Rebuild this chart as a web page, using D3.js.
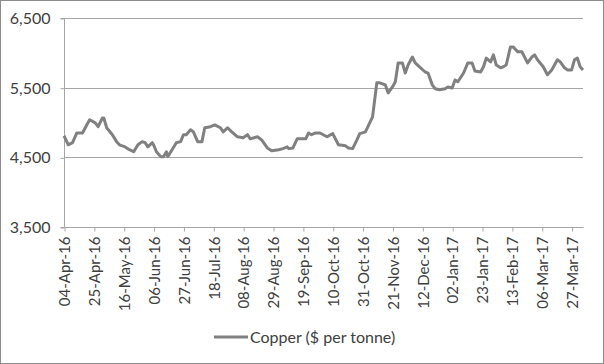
<!DOCTYPE html>
<html>
<head>
<meta charset="utf-8">
<script src="https://cdn.jsdelivr.net/npm/d3@7"></script>
<style>
  body { margin: 0; background: #fff; }
  svg text { font-family: Lato, "Liberation Sans", sans-serif; fill: #404040; }
</style>
</head>
<body>
<svg id="chart" width="604" height="364"></svg>
<script>
// copper price
const dates = [
  '2016-04-04','2016-04-07','2016-04-10','2016-04-13','2016-04-17','2016-04-20','2016-04-22','2016-04-26','2016-04-28',
  '2016-05-01','2016-05-02','2016-05-04','2016-05-08','2016-05-11','2016-05-13','2016-05-17','2016-05-20','2016-05-23',
  '2016-05-26','2016-05-29','2016-05-31','2016-06-02','2016-06-05','2016-06-06','2016-06-08','2016-06-11','2016-06-13',
  '2016-06-15','2016-06-16','2016-06-19','2016-06-22','2016-06-25','2016-06-27','2016-06-29','2016-07-02','2016-07-04',
  '2016-07-07','2016-07-10','2016-07-12','2016-07-16','2016-07-19','2016-07-23','2016-07-25','2016-07-28','2016-07-31',
  '2016-08-04','2016-08-08','2016-08-11','2016-08-13','2016-08-18','2016-08-21','2016-08-25','2016-08-28','2016-09-02',
  '2016-09-05','2016-09-08','2016-09-09','2016-09-12','2016-09-15','2016-09-18','2016-09-21','2016-09-23','2016-09-25',
  '2016-09-28','2016-10-01','2016-10-06','2016-10-10','2016-10-14','2016-10-19','2016-10-21','2016-10-24','2016-10-27',
  '2016-10-29','2016-11-02','2016-11-05','2016-11-07','2016-11-10','2016-11-12','2016-11-16','2016-11-18','2016-11-21',
  '2016-11-23','2016-11-25','2016-11-28','2016-11-30','2016-12-02','2016-12-05','2016-12-07','2016-12-10','2016-12-14',
  '2016-12-16','2016-12-19','2016-12-21','2016-12-24','2016-12-28','2016-12-30','2017-01-02','2017-01-04','2017-01-06',
  '2017-01-10','2017-01-13','2017-01-16','2017-01-18','2017-01-22','2017-01-24','2017-01-26','2017-01-29','2017-01-31',
  '2017-02-02','2017-02-05','2017-02-07','2017-02-09','2017-02-12','2017-02-14','2017-02-17','2017-02-20','2017-02-24',
  '2017-02-27','2017-03-01','2017-03-03','2017-03-07','2017-03-10','2017-03-13','2017-03-17','2017-03-19','2017-03-22',
  '2017-03-24','2017-03-27','2017-03-29','2017-03-31','2017-04-02','2017-04-04'
];
const copper = [
  4810,4680,4710,4850,4850,4965,5040,4995,4940,
  5065,5065,4925,4825,4725,4680,4650,4610,4580,
  4680,4725,4710,4650,4710,4680,4580,4510,4510,
  4580,4510,4610,4710,4725,4825,4825,4895,4865,
  4725,4725,4925,4940,4965,4925,4865,4925,4865,
  4795,4780,4825,4765,4795,4750,4635,4595,4610,
  4625,4650,4625,4635,4765,4765,4765,4850,4825,
  4850,4850,4795,4840,4680,4665,4635,4625,4750,
  4840,4865,4995,5080,5570,5570,5540,5425,5510,
  5585,5855,5855,5710,5825,5940,5855,5800,5725,
  5710,5540,5485,5470,5485,5510,5495,5610,5585,
  5710,5855,5855,5740,5725,5800,5925,5870,5970,
  5825,5785,5800,5825,6085,6085,6015,6015,5855,
  5940,5970,5900,5800,5685,5755,5900,5870,5785,
  5755,5755,5900,5925,5800,5755
];
const xTickLabels = ['04-Apr-16','25-Apr-16','16-May-16','06-Jun-16','27-Jun-16','18-Jul-16','08-Aug-16','29-Aug-16',
  '19-Sep-16','10-Oct-16','31-Oct-16','21-Nov-16','12-Dec-16','02-Jan-17','23-Jan-17','13-Feb-17','06-Mar-17','27-Mar-17'];
const yTicks = [3500, 4500, 5500, 6500];
const seriesName = 'Copper ($ per tonne)';

const parseDay = d3.timeParse('%Y-%m-%d');
const parseTick = d3.timeParse('%d-%b-%y');
const fmtTick = d3.timeFormat('%d-%b-%y');

const points = dates.map((d, i) => ({ date: parseDay(d), value: copper[i] }));

const svg = d3.select('#chart');

// outer frame
svg.append('rect')
  .attr('x', 0.5).attr('y', 0.5)
  .attr('width', 603).attr('height', 363)
  .attr('fill', '#fff')
  .attr('stroke', '#8c8c8c');

const x = d3.scaleTime()
  .domain([parseDay('2016-04-04'), parseDay('2017-04-04')])
  .range([64, 583]);

const y = d3.scaleLinear()
  .domain([3500, 6500])
  .range([227, 18]);

// gridlines
svg.append('g')
  .selectAll('line')
  .data(yTicks.slice(1))
  .join('line')
  .attr('x1', 64).attr('x2', 583)
  .attr('y1', d => Math.round(y(d)) + 0.5)
  .attr('y2', d => Math.round(y(d)) + 0.5)
  .attr('stroke', '#a6a6a6');

// y axis
const yAxis = svg.append('g')
  .attr('transform', 'translate(64.5,0.5)')
  .call(d3.axisLeft(y).tickValues(yTicks).tickSize(4).tickFormat(d3.format(',')));
yAxis.select('.domain').attr('stroke', '#a6a6a6').attr('d', `M-4,${y(6500)}H0V${y(3500)}H-4`);
yAxis.selectAll('.tick line').attr('stroke', '#a6a6a6');
yAxis.selectAll('.tick text')
  .attr('x', -14)
  .style('font-size', '16px');

// x axis
const xAxis = svg.append('g')
  .attr('transform', `translate(0.5,${y(3500) + 0.5})`)
  .call(d3.axisBottom(x).tickValues(xTickLabels.map(parseTick)).tickSize(4).tickFormat(fmtTick));
xAxis.select('.domain').attr('stroke', '#a6a6a6').attr('d', `M64,0H583`);
xAxis.selectAll('.tick line').attr('stroke', '#a6a6a6');
xAxis.selectAll('.tick text')
  .attr('transform', 'rotate(-90)')
  .attr('text-anchor', 'end')
  .attr('x', -9)
  .attr('y', 0)
  .attr('dy', '0.35em')
  .style('font-size', '15px');

// series line
const line = d3.line()
  .x(d => x(d.date))
  .y(d => y(d.value));

svg.append('path')
  .datum(points)
  .attr('fill', 'none')
  .attr('stroke', '#808080')
  .attr('stroke-width', 3)
  .attr('stroke-linejoin', 'round')
  .attr('d', line);

// legend
const legend = svg.append('g').attr('transform', 'translate(214,337)');
legend.append('line')
  .attr('x1', 0).attr('x2', 34)
  .attr('stroke', '#808080')
  .attr('stroke-width', 3);
legend.append('text')
  .attr('x', 36)
  .attr('dy', '0.35em')
  .style('font-size', '16px')
  .text(seriesName);
</script>
</body>
</html>
